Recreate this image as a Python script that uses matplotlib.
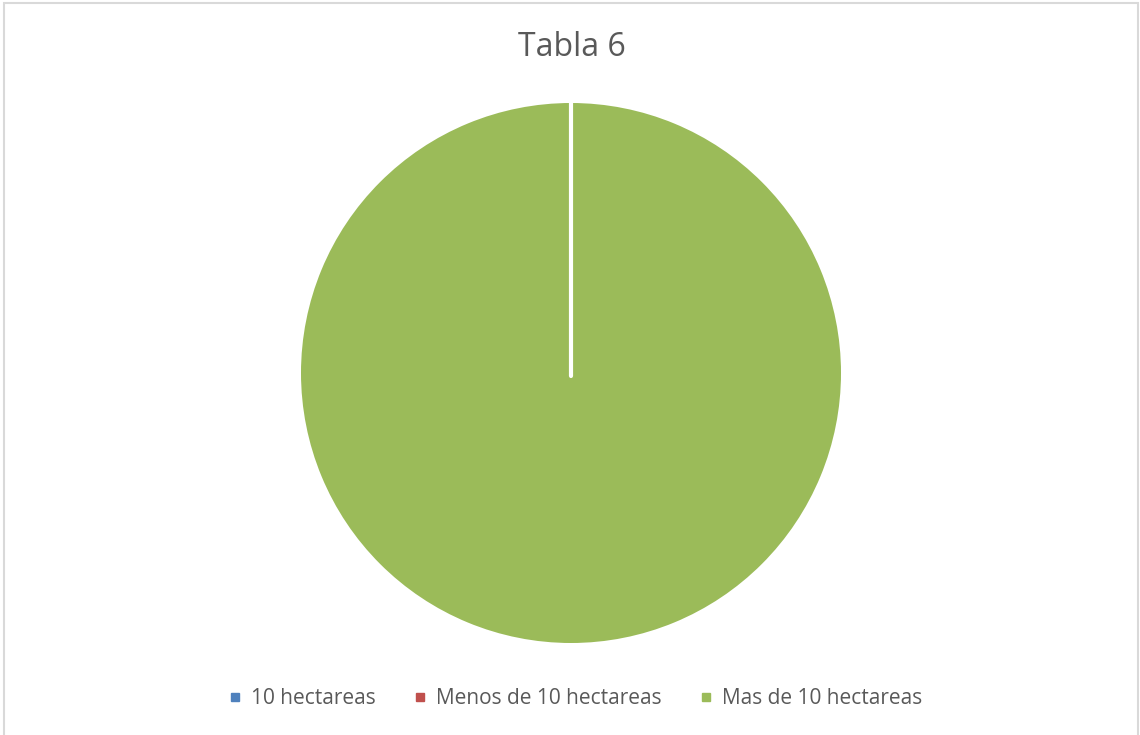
import matplotlib.pyplot as plt
from matplotlib.lines import Line2D
from matplotlib.patches import Rectangle
import numpy as np

# data
categorias = ['10 hectareas', 'Menos de 10 hectareas', 'Mas de 10 hectareas']
valores = [0, 0, 100]
colores = ['#4F81BD', '#C0504D', '#9BBB59']

plt.rcParams['font.family'] = ['Open Sans', 'DejaVu Sans']

W, H = 1140, 735
fig = plt.figure(figsize=(W / 100, H / 100), dpi=100)
fig.patch.set_facecolor('white')

# chart area border
fig.add_artist(Rectangle((4 / W, -0.01), (1138 - 4) / W, 1 - 3 / H + 0.01,
                         transform=fig.transFigure, fill=False,
                         edgecolor='#D9D9D9', linewidth=1.5))

# pie box: centre (571, 373), radius 270 px
ax = fig.add_axes([(571 - 270) / W, (H - 373 - 270) / H, 540 / W, 540 / H])
wedges, _ = ax.pie(valores, colors=colores, startangle=90, counterclock=False,
                   radius=1, wedgeprops=dict(edgecolor='white', linewidth=0))
ax.set_xlim(-1, 1)
ax.set_ylim(-1, 1)
ax.set_aspect('equal')
ax.axis('off')

# white separator where the zero slices sit
w = wedges[-1]
ang = np.deg2rad(w.theta2 if w.theta2 - w.theta1 < 360 else 90)
cx, cy = w.center
ax.plot([cx, cx + w.r * np.cos(ang)], [cy - 0.01, cy + w.r * np.sin(ang)],
        color='white', linewidth=3, solid_capstyle='round')

fig.text(572 / W, 1 - 48 / H, 'Tabla 6', ha='center', va='center',
         fontsize=23, color='#595959')

handles = [Line2D([], [], marker='s', linestyle='none', markersize=6,
                  markerfacecolor=c, markeredgecolor=c) for c in colores]
fig.legend(handles, categorias, loc='center', bbox_to_anchor=(576 / W, 1 - 699 / H),
           ncol=3, frameon=False, fontsize=15, labelcolor='#595959',
           handlelength=0.5, handletextpad=0.5, columnspacing=1.9)

fig.savefig('out.png', dpi=100)
